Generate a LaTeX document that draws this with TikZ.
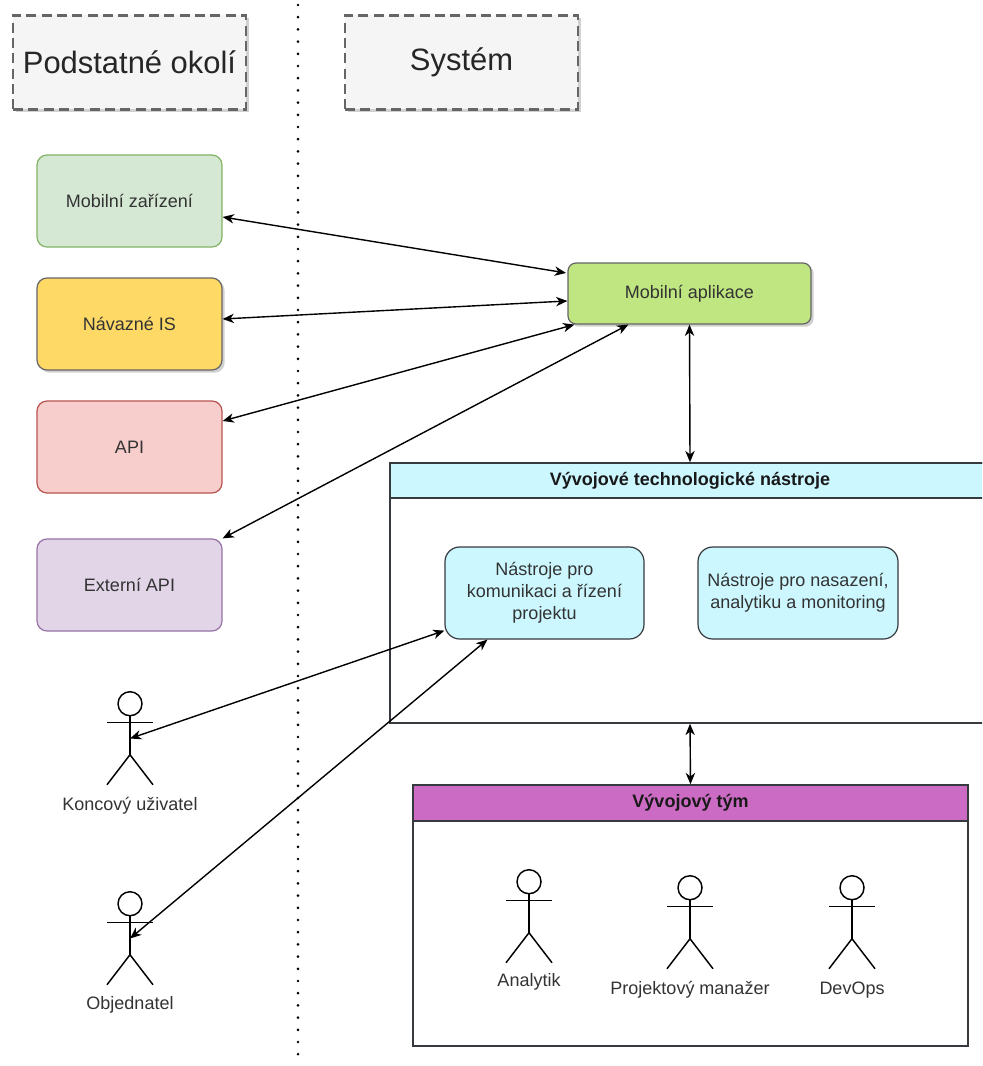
\documentclass[tikz,border=0pt]{standalone}
\usepackage{fontspec}
\setmainfont{Liberation Sans}
\usetikzlibrary{arrows.meta,shadows,calc}
\definecolor{txt}{HTML}{333333}
\definecolor{hdrfill}{HTML}{F5F5F5}
\definecolor{hdrline}{HTML}{666666}
\definecolor{mzfill}{HTML}{D5E8D4}
\definecolor{mzline}{HTML}{82B366}
\definecolor{navfill}{HTML}{FFD966}
\definecolor{navline}{HTML}{666666}
\definecolor{apifill}{HTML}{F8CECC}
\definecolor{apiline}{HTML}{B85450}
\definecolor{extfill}{HTML}{E1D5E7}
\definecolor{extline}{HTML}{9673A6}
\definecolor{appfill}{HTML}{BFE680}
\definecolor{appline}{HTML}{666666}
\definecolor{cyanfill}{HTML}{CCF7FF}
\definecolor{darkline}{HTML}{36393D}
\definecolor{teamfill}{HTML}{CC6BC3}
\begin{document}
\begin{tikzpicture}[x=0.75pt,y=-0.75pt,
  shd/.style={drop shadow={shadow xshift=2pt,shadow yshift=-2pt,opacity=0.18,fill=black}},
  hdr/.style={draw=hdrline,dash pattern=on 7.5pt off 4pt,line width=2pt,fill=hdrfill,
    minimum width=174.75pt,minimum height=70.5pt,inner sep=0pt,
    font=\fontsize{23.2}{27}\selectfont,text=black!85,shd},
  lbox/.style={draw,rounded corners=7.5pt,line width=0.9pt,minimum width=138.75pt,
    minimum height=69pt,inner sep=0pt,align=center,text=txt,
    font=\fontsize{13.5}{16.5}\selectfont},
  ibox/.style={draw=darkline,fill=cyanfill,rounded corners=11pt,line width=0.9pt,
    minimum height=69pt,inner sep=0pt,align=center,text=txt,
    font=\fontsize{13.5}{16.5}\selectfont},
  cont/.style={draw=darkline,line width=1.1pt,inner sep=0pt},
  chdr/.style={draw=darkline,line width=1.1pt,inner sep=0pt,
    font=\bfseries\fontsize{13.5}{16.5}\selectfont,text=black!90},
  actorbox/.style={minimum width=34.5pt,minimum height=69.75pt,inner sep=0pt},
  lbl/.style={inner sep=0pt,anchor=mid,text=txt,font=\fontsize{13.5}{16.5}\selectfont},
  fig/.style={line width=1.1pt,black},
  tip/.style={Stealth[length=8.5pt,width=7pt,inset=2.6pt]},
  conn/.style={{Stealth[length=8.5pt,width=7pt,inset=2.6pt]}-{Stealth[length=8.5pt,width=7pt,inset=2.6pt]},line width=1.05pt,black},
  dots/.style={line width=2.2pt,line cap=round,dash pattern=on 0pt off 9.15pt},
  stick/.pic={
    \draw[fig,fill=white] (0,12) circle[radius=9pt];
    \draw[fig] (-23,31) -- (23,31);
    \draw[fig] (0,24) -- (0,63);
    \draw[fig] (-23,93) -- (0,63) -- (23,93);
  }
]
\useasboundingbox (0,0) rectangle (982,1066);
\clip (0,0) rectangle (982,1066);
\fill[white] (0,0) rectangle (982,1066);

% dotted separator
\draw[dots] (298,5) -- (298,1062);

% headers
\node[hdr] (hokoli) at (129.5,62.5) {Podstatné okolí};
\node[hdr] (hsys) at (461.5,62.5) {Systém};

% left boxes
\node[lbox,draw=mzline,fill=mzfill] (mz) at (129.5,201) {Mobilní zařízení};
\node[lbox,draw=navline,fill=navfill,shd] (nav) at (129.5,324) {Návazné IS};
\node[lbox,draw=apiline,fill=apifill] (api) at (129.5,447) {API};
\node[lbox,draw=extline,fill=extfill] (ext) at (129.5,585) {Externí API};

% mobile app
\node[lbox,draw=appline,fill=appfill,rounded corners=6pt,minimum width=182.25pt,
  minimum height=45.75pt,shd] (app) at (689.5,293.5) {Mobilní aplikace};

% tools container
\node[cont,minimum width=450pt,minimum height=195pt] (tools) at (690,593) {};
\node[chdr,fill=cyanfill,minimum width=450pt,minimum height=26.25pt,anchor=north]
  (toolsh) at (tools.north) {Vývojové technologické nástroje};
\node[ibox,minimum width=149.25pt] (comm) at (544.5,593)
  {Nástroje pro\\komunikaci a řízení\\projektu};
\node[ibox,minimum width=150pt] (dep) at (798,593)
  {Nástroje pro nasazení,\\analytiku a monitoring};

% team container
\node[cont,minimum width=416.25pt,minimum height=195.75pt] (team) at (690.5,915.5) {};
\node[chdr,fill=teamfill,minimum width=416.25pt,minimum height=27pt,anchor=north]
  (teamh) at (team.north) {Vývojový tým};

% actors outside
\node[actorbox] (ku) at (130,738.5) {};
\pic at (ku.north) {stick};
\node[lbl] (kul) at (130,807) {Koncový uživatel};
\node[actorbox] (obj) at (130,938.5) {};
\pic at (obj.north) {stick};
\node[lbl] (objl) at (130,1006) {Objednatel};

% team actors
\node[actorbox] (an) at (529,916.5) {};
\pic at (an.north) {stick};
\node[lbl] (anl) at (529,983) {Analytik};
\node[actorbox] (pm) at (690,922.5) {};
\pic at (pm.north) {stick};
\node[lbl] (pml) at (690,991) {Projektový manažer};
\node[actorbox] (dev) at (852,922.5) {};
\pic at (dev.north) {stick};
\node[lbl] (devl) at (852,991) {DevOps};

% connectors
\draw[conn] ([yshift=-12pt]mz.east) -- ([xshift=-1pt,yshift=15.4pt]app.west);
\draw[conn] ([yshift=3.75pt]nav.east) -- ([yshift=-5.6pt]app.west);
\draw[conn] ([yshift=19.5pt]api.east) -- ([xshift=5.25pt]app.south west);
\draw[conn] (ext.north east) -- ([xshift=45.75pt]app.south west);
\draw[conn] (app.south) -- (tools.north);
\draw[conn] (tools.south) -- (team.north);
\draw[conn] (ku.center) -- ([yshift=6.75pt]comm.south west);
\draw[conn] (obj.center) -- ([xshift=32.25pt]comm.south west);
\end{tikzpicture}
\end{document}
